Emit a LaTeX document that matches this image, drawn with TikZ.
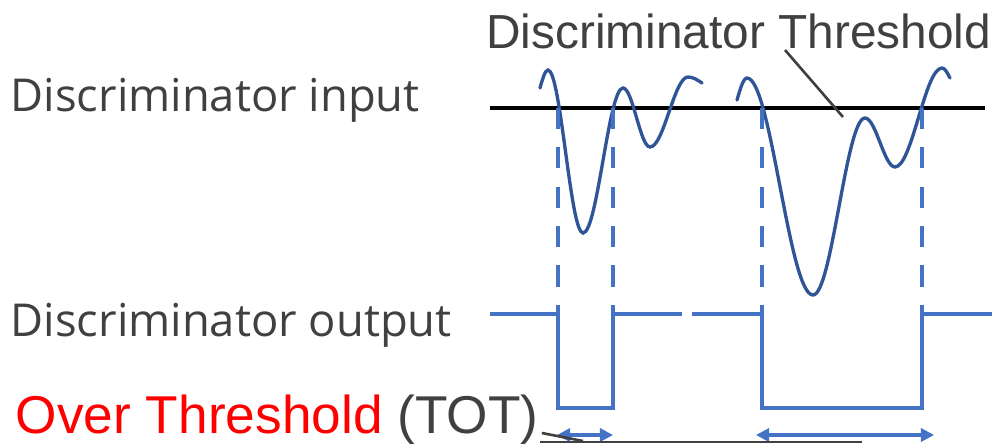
\documentclass[tikz,border=0pt]{standalone}
\usepackage{fontspec}
\setmainfont{Liberation Sans}
\newfontfamily\uifont{Open Sans}
\usetikzlibrary{arrows.meta}
\definecolor{txtgray}{HTML}{404040}
\definecolor{wavecol}{HTML}{2F5597}
\definecolor{sigcol}{HTML}{4472C4}

\begin{document}
\begin{tikzpicture}[x=0.02cm, y=-0.02cm,
	txt/.style={inner sep=0pt, anchor=base west, text=txtgray},
	wave/.style={color=wavecol, line width=1.9pt, line cap=round},
	crossing/.style={color=sigcol, line width=2.3pt, dash pattern=on 12pt off 10.4pt},
	pulse/.style={color=sigcol, line width=2.3pt},
	totarrow/.style={color=sigcol, line width=1.8pt, {Triangle[length=7.5pt,width=7.5pt]}-{Triangle[length=7.5pt,width=7.5pt]}},
	pointer/.style={color=txtgray, line width=1.5pt}]
	\useasboundingbox (0,0) rectangle (997,444);
	% labels
	\node[txt, font=\uifont\fontsize{25.8}{31}\selectfont] (inlabel) at (10.5,111) {Discriminator input};
	\node[txt, font=\uifont\fontsize{25.8}{31}\selectfont] (outlabel) at (10.5,336) {Discriminator output};
	\node[txt, font=\fontsize{27.2}{32}\selectfont] (thrlabel) at (486,48) {Discriminator Threshold};
	\node[txt, font=\fontsize{30.3}{36}\selectfont] (totlabel) at (15.5,433) {\textcolor{red}{Over Threshold} (TOT)};
	% threshold
	\draw[line width=2.2pt] (490,108) -- (985,108);
	\coordinate (thrfoot) at (785,50);
	\coordinate (thrtip) at (843,117);
	\draw[pointer] (thrfoot) -- (thrtip);
	% input pulses
	\draw[wave] (540,88) sin (548,70) cos (565.5,151.5) sin (583,233) cos (603,160.5) sin (623,88)
		cos (636.5,117.5) sin (650,147) cos (669,112) sin (688,77) cos (702,83);
	\draw[wave] (737,100) sin (747,78) cos (780,186.5) sin (813,295) cos (839,206.5) sin (865,118)
		cos (880,142.5) sin (895,167) cos (918.5,117.5) sin (942,68) cos (950,78);
	% crossings
	\foreach \x in {558,613,762,922}
		\draw[crossing] (\x,108) -- (\x,314);
	% output
	\draw[pulse] (490,314) -- (558,314) -- (558,408) -- (613,408) -- (613,314) -- (682,314);
	\draw[pulse] (692,314) -- (762,314) -- (762,408) -- (922,408) -- (922,314) -- (992,314);
	% tot
	\draw[totarrow] (557,435) -- (613,435);
	\draw[totarrow] (756,435) -- (934,435);
	\coordinate (tot1) at (583,441);
	\coordinate (tot2) at (862,442);
	\draw[pointer] (totlabel.base east) ++(3,0) -- (tot1);
	\draw[pointer] (totlabel.base east) ++(1,9) -- (tot2);
\end{tikzpicture}
\end{document}
